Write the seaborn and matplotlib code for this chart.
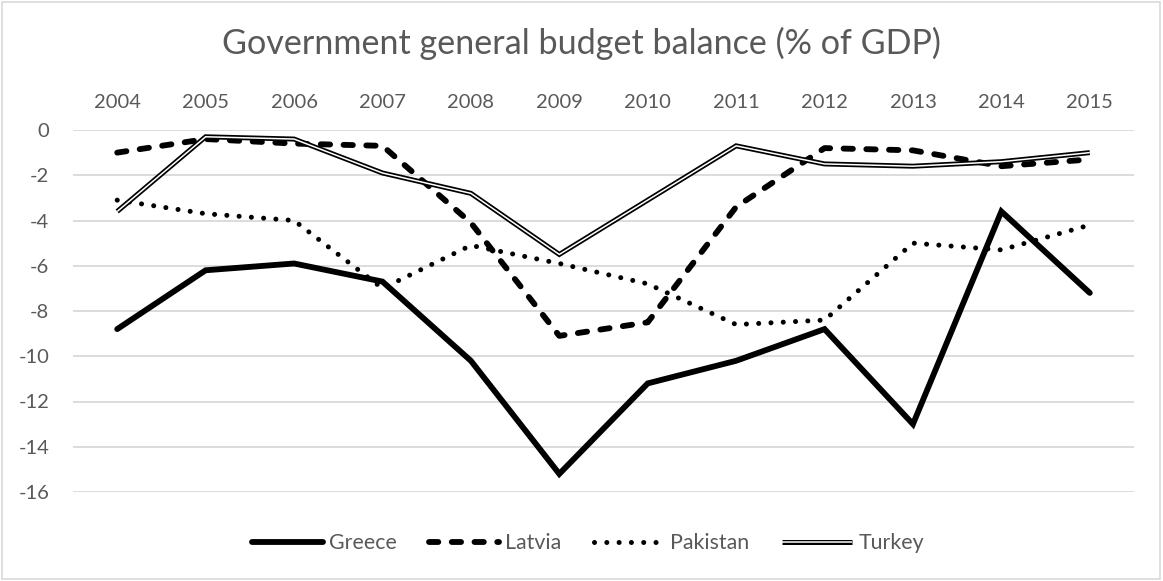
import matplotlib
matplotlib.use("Agg")
import matplotlib.pyplot as plt
import matplotlib.patheffects as pe
from matplotlib.patches import Rectangle
from matplotlib.lines import Line2D
import pandas as pd
import seaborn as sns

years = ["2004", "2005", "2006", "2007", "2008", "2009",
         "2010", "2011", "2012", "2013", "2014", "2015"]
greece = [-8.8, -6.2, -5.9, -6.7, -10.2, -15.2, -11.2, -10.2, -8.8, -13.0, -3.6, -7.2]
latvia = [-1.0, -0.4, -0.6, -0.7, -4.1, -9.1, -8.5, -3.4, -0.8, -0.9, -1.6, -1.3]
pakistan = [-3.1, -3.7, -4.0, -7.0, -5.1, -5.9, -6.8, -8.6, -8.4, -5.0, -5.3, -4.2]
turkey = [-3.6, -0.3, -0.4, -1.9, -2.8, -5.5, -3.1, -0.7, -1.5, -1.6, -1.4, -1.0]
series_names = ["Greece", "Latvia", "Pakistan", "Turkey"]
y_ticks = [0, -2, -4, -6, -8, -10, -12, -14, -16]

TEXT = "#595959"
GRID = "#d9d9d9"

sns.set_theme(style="white")
plt.rcParams["font.family"] = ["Lato", "DejaVu Sans"]

frames = []
for name, vals in zip(series_names, [greece, latvia, pakistan, turkey]):
    frames.append(pd.DataFrame({"year": years, "pos": range(len(years)),
                                "value": vals, "country": name}))
df = pd.concat(frames, ignore_index=True)

fig = plt.figure(figsize=(11.63, 5.81), dpi=100)
ax = fig.add_axes([73 / 1163, 1 - 492 / 581, (1134 - 73) / 1163, (492 - 130) / 581])

styles = {
    "Greece": dict(linestyle="-", linewidth=4.2),
    "Latvia": dict(linestyle=(0, (1.6, 2.3)), linewidth=4.2),
    "Pakistan": dict(linestyle=(0, (0.01, 2.45)), linewidth=3.6),
    "Turkey": dict(linestyle="-", linewidth=1.1),
}
caps = {"Greece": "round", "Latvia": "round", "Pakistan": "round", "Turkey": "butt"}
colors = {"Greece": "black", "Latvia": "black", "Pakistan": "black", "Turkey": "white"}
double = [pe.Stroke(linewidth=3.6, foreground="black"), pe.Normal()]


def finish_line(line, name):
    line.set_dash_capstyle(caps[name])
    line.set_solid_capstyle(caps[name])
    line.set_solid_joinstyle("miter")
    line.set_dash_joinstyle("round")
    if name == "Turkey":
        line.set_path_effects(double)


for name in series_names:
    sub = df[df["country"] == name]
    sns.lineplot(data=sub, x="pos", y="value", ax=ax, color=colors[name],
                 legend=False, **styles[name])
    finish_line(ax.lines[-1], name)
    ax.lines[-1].set_clip_on(False)

ax.set_xlim(-0.5, len(years) - 0.5)
ax.set_ylim(-16, 0)
ax.set_xticks(range(len(years)))
ax.set_xticklabels(years)
ax.xaxis.tick_top()
ax.set_yticks(y_ticks)
ax.set_yticklabels([str(v) for v in y_ticks])
ax.tick_params(axis="x", length=0, pad=14, labelsize=14.5, labelcolor=TEXT)
ax.tick_params(axis="y", length=0, pad=17, labelsize=14.5, labelcolor=TEXT)
ax.set_xlabel("")
ax.set_ylabel("")
for s in ax.spines.values():
    s.set_visible(False)
ax.yaxis.grid(True, color=GRID, linewidth=1.3)
ax.xaxis.grid(False)
ax.set_axisbelow(True)

fig.text(0.5, 1 - 43 / 581, "Government general budget balance (% of GDP)",
         ha="center", va="center", fontsize=24.6, color=TEXT)

handles = []
for name in series_names:
    h = Line2D([], [], color=colors[name], **styles[name])
    finish_line(h, name)
    handles.append(h)
leg = fig.legend(handles, series_names, loc="center",
                 bbox_to_anchor=(588 / 1163, 1 - 543 / 581), ncol=4,
                 frameon=False, fontsize=15.4, handlelength=3.3,
                 handletextpad=0.28, columnspacing=1.5, labelcolor=TEXT)

fig.patches.append(Rectangle((2 / 1163, 2 / 581), 1158 / 1163, 577 / 581,
                             transform=fig.transFigure, fill=False,
                             edgecolor=GRID, linewidth=1.2))

fig.savefig("out.png", dpi=100, facecolor="white")
